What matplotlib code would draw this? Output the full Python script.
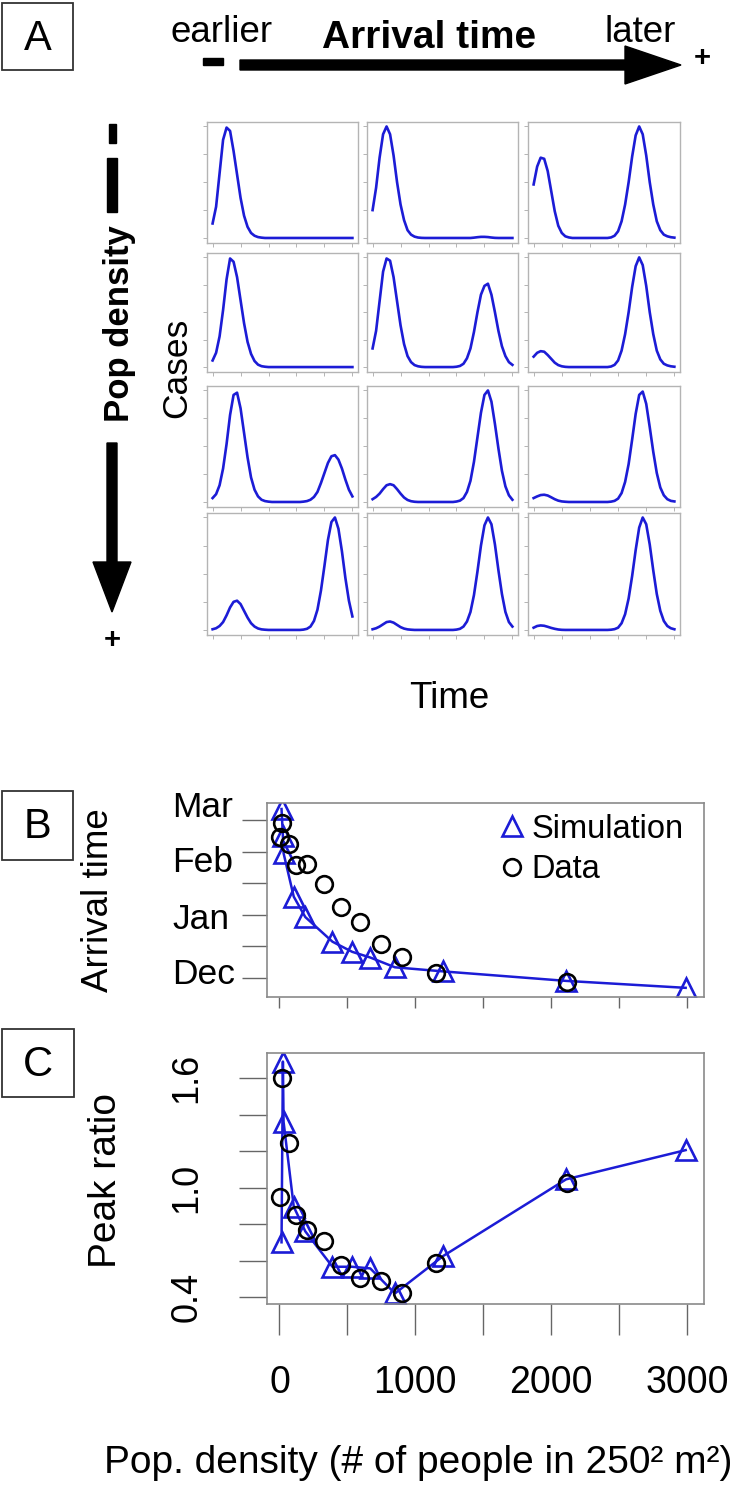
import numpy as np
import matplotlib.pyplot as plt
import matplotlib.transforms as mtransforms
from matplotlib.patches import Polygon, Rectangle
from matplotlib.lines import Line2D

plt.rcParams['font.family'] = ['Liberation Sans', 'DejaVu Sans']

W, H = 745, 1485

# ---- panel A : normalised cases over time (rows = pop density, cols = arrival time)
time = np.arange(0, 100.1, 2.5)

r1c1 = [0.13, 0.28, 0.58, 0.88, 0.99, 0.96, 0.78, 0.57, 0.36, 0.20, 0.10, 0.045, 0.02, 0.008, 0.003,
        0, 0, 0, 0, 0, 0, 0, 0, 0, 0, 0, 0, 0, 0, 0, 0, 0, 0, 0, 0, 0, 0, 0, 0, 0, 0]
r1c2 = [0.25, 0.45, 0.72, 0.93, 1.0, 0.93, 0.74, 0.50, 0.30, 0.16, 0.07, 0.03, 0.012, 0.004, 0.001,
        0, 0, 0, 0, 0, 0, 0, 0, 0, 0, 0, 0, 0, 0,
        0.003, 0.007, 0.01, 0.01, 0.008, 0.004, 0.001, 0, 0, 0, 0, 0]
r1c3 = [0.48, 0.64, 0.72, 0.71, 0.60, 0.42, 0.24, 0.11, 0.045, 0.015, 0.005,
        0, 0, 0, 0, 0, 0, 0, 0, 0, 0, 0,
        0.005, 0.02, 0.06, 0.15, 0.30, 0.50, 0.73, 0.92, 1.0, 0.93, 0.74, 0.50, 0.30, 0.15, 0.07,
        0.03, 0.015, 0.007, 0.003]
r2c1 = [0.06, 0.13, 0.28, 0.52, 0.80, 0.99, 0.96, 0.82, 0.61, 0.40, 0.23, 0.12, 0.055, 0.022, 0.008, 0.003,
        0, 0, 0, 0, 0, 0, 0, 0, 0, 0, 0, 0, 0, 0, 0, 0, 0, 0, 0, 0, 0, 0, 0, 0, 0]
r2c2 = [0.17, 0.33, 0.60, 0.87, 0.99, 0.97, 0.82, 0.60, 0.38, 0.21, 0.10, 0.045, 0.018, 0.007, 0.002,
        0, 0, 0, 0, 0, 0, 0, 0, 0,
        0.003, 0.01, 0.03, 0.08, 0.17, 0.32, 0.50, 0.66, 0.74, 0.76, 0.66, 0.50, 0.33, 0.19, 0.10,
        0.045, 0.02]
r2c3 = [0.095, 0.13, 0.145, 0.14, 0.11, 0.075, 0.04, 0.018, 0.007, 0.002,
        0, 0, 0, 0, 0, 0, 0, 0, 0, 0, 0, 0,
        0.005, 0.02, 0.06, 0.15, 0.30, 0.50, 0.73, 0.92, 1.0, 0.93, 0.74, 0.50, 0.30, 0.15, 0.07,
        0.03, 0.015, 0.007, 0.003]
r3c1 = [0.035, 0.07, 0.15, 0.30, 0.52, 0.78, 0.96, 0.98, 0.84, 0.62, 0.40, 0.22, 0.11, 0.05, 0.02, 0.008, 0.003,
        0, 0, 0, 0, 0, 0, 0, 0, 0,
        0.003, 0.008, 0.02, 0.045, 0.09, 0.17, 0.26, 0.35, 0.41, 0.42, 0.38, 0.30, 0.20, 0.11, 0.05]
r3c2 = [0.025, 0.045, 0.075, 0.115, 0.15, 0.16, 0.15, 0.115, 0.075, 0.04, 0.018, 0.007, 0.002,
        0, 0, 0, 0, 0, 0, 0, 0, 0, 0, 0,
        0.004, 0.012, 0.035, 0.09, 0.19, 0.36, 0.58, 0.80, 0.96, 1.0, 0.90, 0.70, 0.48, 0.28, 0.14,
        0.06, 0.02]
r3c3 = [0.035, 0.05, 0.062, 0.065, 0.058, 0.042, 0.025, 0.012, 0.005, 0.002,
        0, 0, 0, 0, 0, 0, 0, 0, 0, 0, 0, 0,
        0.003, 0.01, 0.03, 0.08, 0.18, 0.34, 0.56, 0.79, 0.96, 0.99, 0.88, 0.67, 0.45, 0.26, 0.13,
        0.06, 0.025, 0.01, 0.005]
r4c1 = [0.006, 0.015, 0.035, 0.07, 0.13, 0.20, 0.25, 0.26, 0.23, 0.17, 0.11, 0.06, 0.03, 0.013, 0.005, 0.002,
        0, 0, 0, 0, 0, 0, 0, 0, 0, 0,
        0.003, 0.01, 0.03, 0.08, 0.18, 0.35, 0.57, 0.80, 0.96, 1.0, 0.90, 0.70, 0.46, 0.26, 0.12]
r4c2 = [0.006, 0.015, 0.03, 0.05, 0.07, 0.075, 0.065, 0.045, 0.025, 0.012, 0.005, 0.002,
        0, 0, 0, 0, 0, 0, 0, 0, 0, 0, 0, 0,
        0.003, 0.01, 0.03, 0.075, 0.16, 0.31, 0.52, 0.75, 0.93, 1.0, 0.94, 0.76, 0.53, 0.32, 0.16,
        0.07, 0.03]
r4c3 = [0.02, 0.035, 0.04, 0.037, 0.028, 0.018, 0.01, 0.004, 0.001,
        0, 0, 0, 0, 0, 0, 0, 0, 0, 0, 0, 0, 0,
        0.002, 0.007, 0.02, 0.06, 0.14, 0.28, 0.48, 0.71, 0.91, 1.0, 0.94, 0.76, 0.53, 0.32, 0.17,
        0.08, 0.035, 0.015, 0.006]

curves = [[r1c1, r1c2, r1c3],
          [r2c1, r2c2, r2c3],
          [r3c1, r3c2, r3c3],
          [r4c1, r4c2, r4c3]]

# ---- panels B and C
sim_density = [15, 25, 30, 105, 190, 390, 535, 668, 850, 1205, 2110, 2990]
sim_arrival = [107, 90, 79, 51.5, 38.6, 23, 16.6, 13, 6.8, 4.2, -1.8, -6.2]
sim_ratio = [0.70, 1.69, 1.36, 0.895, 0.76, 0.566, 0.566, 0.557, 0.42, 0.625, 1.045, 1.205]

data_density = [6, 20, 71, 120, 201, 327, 455, 590, 745, 904, 1151, 2116]
data_arrival = [89.5, 98, 85, 71.5, 72, 59.5, 45, 35.3, 21.5, 13.2, 3.4, -2.6]
data_ratio = [0.95, 1.60, 1.245, 0.85, 0.767, 0.707, 0.575, 0.503, 0.489, 0.42, 0.585, 1.023]

months = ['Dec', 'Jan', 'Feb', 'Mar']
month_pos = [2, 37, 73, 108]

ratio_ticks = [0.4, 0.6, 0.8, 1.0, 1.2, 1.4, 1.6]
ratio_labels = ['0.4', '', '', '1.0', '', '', '1.6']
dens_ticks = [0, 500, 1000, 1500, 2000, 2500, 3000]
dens_labels = ['0', '', '1000', '', '2000', '', '3000']

BLUE = '#1c1cd6'
GREY = '#b4b4b4'


def px(l, t, r, b):
    return [l / W, 1 - b / H, (r - l) / W, (b - t) / H]


fig = plt.figure(figsize=(W / 100, H / 100), dpi=100)

cols = [(207, 358), (367, 518), (528, 680)]
rows = [(122, 243), (253, 372), (386, 507), (513, 635)]
for i, (t, b) in enumerate(rows):
    for j, (l, r) in enumerate(cols):
        ax = fig.add_axes(px(l, t, r, b))
        ax.plot(time, curves[i][j], color=BLUE, lw=1.9)
        ax.set_xlim(-4, 104)
        ax.set_ylim(-0.045, 1.04)
        ax.set_xticks(np.arange(0, 101, 20))
        ax.set_yticks([0, 0.25, 0.5, 0.75, 1.0])
        ax.tick_params(length=3, width=0.7, color=GREY, labelbottom=False, labelleft=False)
        for s in ax.spines.values():
            s.set_color(GREY)
            s.set_linewidth(1.0)

# panel B
ax_b = fig.add_axes(px(267, 803, 704, 997))
ax_b.plot(sim_density, sim_arrival, color=BLUE, lw=1.8)
ax_b.plot(sim_density, sim_arrival, ls='none', marker='^', ms=14, mfc='none', mec=BLUE, mew=1.9)
ax_b.plot(data_density, data_arrival, ls='none', marker='o', ms=12, mfc='none', mec='black', mew=1.9)
ax_b.set_xlim(-92, 3125)
ax_b.set_ylim(-12, 110.8)
ax_b.set_xticks(dens_ticks)
ax_b.set_xticklabels([])
ax_b.set_yticks([0, 20, 40, 60, 80, 100])
ax_b.set_yticklabels([])
ax_b.tick_params(axis='x', length=8, width=1, color='#666666')
ax_b.tick_params(axis='y', length=18, width=1, color='#666666')
trans = mtransforms.blended_transform_factory(ax_b.transAxes, ax_b.transData)
for m, v in zip(months, month_pos):
    ax_b.text(-0.2174, v, m, transform=trans, ha='left', va='center', fontsize=25.5)
handles = [Line2D([], [], ls='none', marker='^', ms=14, mfc='none', mec=BLUE, mew=1.9),
           Line2D([], [], ls='none', marker='o', ms=12, mfc='none', mec='black', mew=1.9)]
ax_b.legend(handles, ['Simulation', 'Data'], loc='upper left', bbox_to_anchor=(0.526, 0.945),
            frameon=False, fontsize=23.5, handlelength=0.9, handletextpad=0.15,
            labelspacing=0.3, borderpad=0, borderaxespad=0)

# panel C
ax_c = fig.add_axes(px(267, 1053, 704, 1304))
ax_c.plot(sim_density, sim_ratio, color=BLUE, lw=1.8)
ax_c.plot(sim_density, sim_ratio, ls='none', marker='^', ms=14, mfc='none', mec=BLUE, mew=1.9)
ax_c.plot(data_density, data_ratio, ls='none', marker='o', ms=12, mfc='none', mec='black', mew=1.9)
ax_c.set_xlim(-92, 3125)
ax_c.set_ylim(0.362, 1.737)
ax_c.set_yticks(ratio_ticks)
ax_c.set_yticklabels(ratio_labels, rotation=90, va='center', fontsize=26)
ax_c.set_xticks(dens_ticks)
ax_c.set_xticklabels(dens_labels, fontsize=27)
ax_c.tick_params(axis='y', length=20, width=1, color='#666666', pad=25)
ax_c.tick_params(axis='x', length=22, width=1, color='#666666', pad=22)

for a in (ax_b, ax_c):
    for s in a.spines.values():
        s.set_color('#8a8a8a')
        s.set_linewidth(1.2)

# ---- annotations in pixel coordinates
ov = fig.add_axes([0, 0, 1, 1], zorder=5)
ov.set_xlim(0, W)
ov.set_ylim(H, 0)
ov.axis('off')
ov.patch.set_alpha(0)

# panel letters
for lab, (x0, y0, x1, y1) in zip('ABC', [(2, 3, 73, 70), (2, 791, 73, 860), (2, 1029, 74, 1097)]):
    ov.add_patch(Rectangle((x0, y0), x1 - x0, y1 - y0, fill=False, ec='#333333', lw=1.3))
    ov.text((x0 + x1) / 2, (y0 + y1) / 2 + 2, lab, ha='center', va='center', fontsize=30)

# horizontal arrow (arrival time)
ov.add_patch(Polygon([(240, 60), (625, 60), (625, 46), (681, 65), (625, 84), (625, 70), (240, 70)],
                     closed=True, color='black'))
ov.add_patch(Rectangle((203, 58), 20, 7, color='black'))
ov.text(702, 58, '+', ha='center', va='center', fontsize=21, fontweight='bold')
ov.text(222, 42, 'earlier', ha='center', va='baseline', fontsize=26.5)
ov.text(640, 42, 'later', ha='center', va='baseline', fontsize=26.5)
ov.text(429, 48, 'Arrival time', ha='center', va='baseline', fontsize=28, fontweight='bold')

# vertical arrow (pop density)
ov.add_patch(Rectangle((109, 124), 7, 19, color='black'))
ov.add_patch(Rectangle((107, 158), 10, 54, color='black'))
ov.add_patch(Polygon([(107, 443), (117, 443), (117, 562), (131, 562), (112, 612), (93, 562), (107, 562)],
                     closed=True, color='black'))
ov.text(112, 640, '+', ha='center', va='center', fontsize=21, fontweight='bold')
ov.text(119, 324, 'Pop density', ha='center', va='center', rotation=90, fontsize=25, fontweight='bold')

ov.text(177, 368, 'Cases', ha='center', va='center', rotation=90, fontsize=25.5)
ov.text(449, 708, 'Time', ha='center', va='baseline', fontsize=26.5)

ov.text(98, 900, 'Arrival time', ha='center', va='center', rotation=90, fontsize=26.5)
ov.text(106, 1180, 'Peak ratio', ha='center', va='center', rotation=90, fontsize=28)
ov.text(418, 1463, 'Pop. density (# of people in 250² m²)', ha='center', va='center', fontsize=28)

fig.savefig('out.png', dpi=100)
